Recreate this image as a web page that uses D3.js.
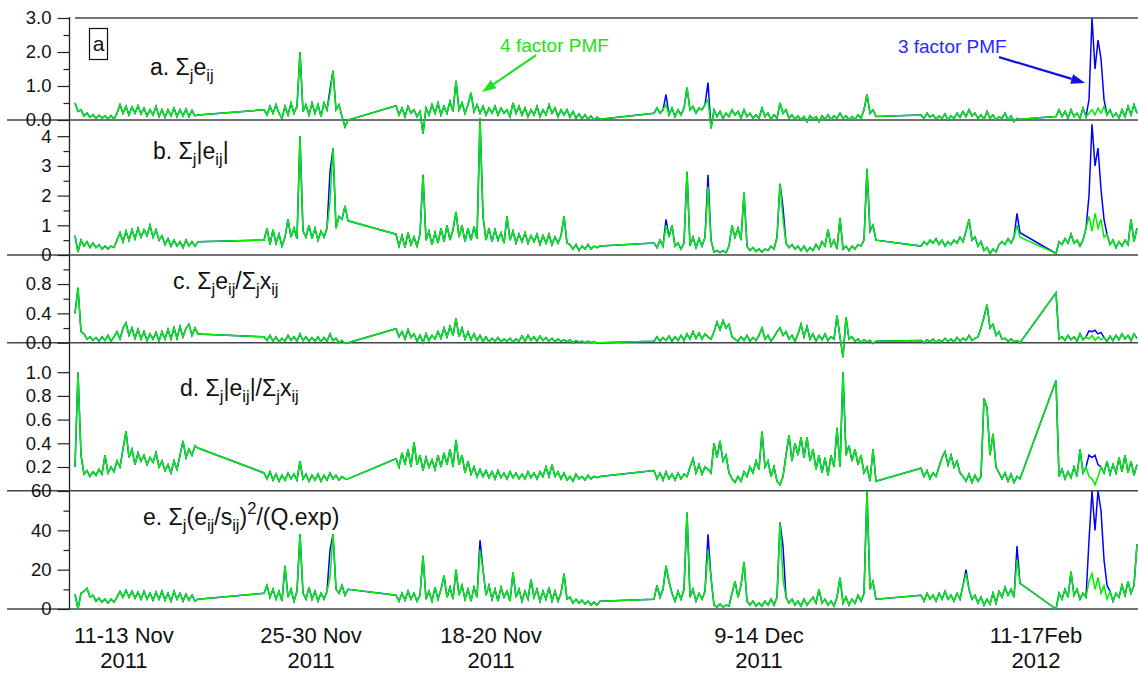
<!DOCTYPE html>
<meta charset="utf-8">
<script src="https://cdn.jsdelivr.net/npm/d3@7"></script>
<style>
body {margin: 0; background: #fff;}
svg text {font-family: "Liberation Sans", Arial, sans-serif; fill: #111;}
.sep {stroke: #444; stroke-width: 1.6;}
.axis path {display: none;}
.axis line {stroke: #222; stroke-width: 1.2;}
.axis text {font-size: 18.5px; fill: #111;}
.green {fill: none; stroke: #00f000; stroke-width: 1.5;}
.blue {fill: none; stroke: #0000ff; stroke-width: 1.5;}
.xlab {font-size: 22px; text-anchor: middle;}
.title {font-size: 23px;}
</style>
<div id="vis"></div>
<script>

// sample index where each measurement period starts (concatenated, compressed time axis)
var periodStart = [0, 63, 107, 193, 282, 327];
var axisEnd = 354.33;

// x labels (period names)
var periodLabels = [
  {t: 16.3, l1: "11-13 Nov", l2: "2011"},
  {t: 78.7, l1: "25-30 Nov", l2: "2011"},
  {t: 138.7, l1: "18-20 Nov", l2: "2011"},
  {t: 228, l1: "9-14 Dec", l2: "2011"},
  {t: 320.3, l1: "11-17Feb", l2: "2012"}
];

// ---- a. sum e_ij  (4 factor PMF, green) one list per period
var aGreen = [
  [0.5,0.25,0.3,0.12,0.2,0.08,0.15,0.05,0.14,0.06,0.12,0.04,0.13,0.02,0.2,0.45,0.2,0.4,0.15,0.38,0.2,0.42,0.18,0.35,0.12,0.3,0.15,0.4,0.1,0.3,0.08,0.3,0.12,0.35,0.1,0.3,0.12,0.32,0.1,0.28,0.12,0.15],
  [0.3,0.15,0.4,0.2,0.45,0.2,0.05,0.4,0.15,0.5,0.2,0.4,2.0,0.25,0.45,0.15,0.5,0.2,0.45,0.1,0.5,0.3,0.75,1.45,0.3,0.45,0.1,-0.2,0.0],
  [0.42,0.15,0.35,0.1,0.4,0.2,0.3,0.1,0.25,-0.4,0.35,0.15,0.45,0.2,0.5,0.15,0.4,0.2,0.55,0.25,1.15,0.3,0.5,0.2,0.45,0.8,0.25,0.45,0.2,0.4,0.15,0.35,0.2,0.4,0.15,0.35,0.2,0.3,0.1,0.5,0.2,0.4,0.15,0.35,0.1,0.3,0.15,0.4,0.1,0.3,0.15,0.45,0.2,0.35,0.1,0.3,0.15,0.3,0.08,0.25,0.05,0.18,0.03,0.15,0.02,0.12,0.0,0.08,0.02],
  [0.2,0.35,0.2,0.3,0.45,0.15,0.35,0.1,0.3,0.15,0.35,0.95,0.3,0.4,0.2,0.35,0.3,0.45,0.6,-0.25,0.3,0.1,0.25,0.05,0.2,0.1,0.3,0.15,0.25,0.05,0.3,0.1,0.2,0.05,0.15,0.05,0.35,0.1,0.2,0.02,0.15,0.05,0.5,0.2,0.3,0.05,0.15,0.02,0.12,0.0,0.1,-0.05,0.12,0.02,0.1,-0.05,0.12,0.02,0.15,0.0,0.12,0.05,0.2,0.05,0.12,0.0,0.1,0.02,0.15,0.05,0.3,0.75,0.2,0.3,0.1],
  [0.15,0.05,0.2,0.08,0.15,0.02,0.12,0.05,0.18,0.0,0.12,0.05,0.2,0.08,0.25,0.1,0.3,0.12,0.2,0.05,0.15,0.02,0.25,0.05,0.15,0.0,0.1,0.05,0.2,0.0,0.12,-0.05,0.05,0.02],
  [0.1,0.3,0.1,0.25,0.05,0.3,0.1,0.2,0.05,0.35,0.1,0.2,0.3,0.15,0.35,0.2,0.4,0.15,0.3,0.1,0.2,0.05,0.3,0.1,0.4,0.15,0.45,0.2]
];
// 3 factor PMF (blue): same as green except these [period, sample, value]
var aBlue = [[1,22,0.9],[3,4,0.75],[3,18,1.1],[5,11,0.6],[5,12,3.0],[5,13,1.5],[5,14,2.35],[5,15,1.8],[5,16,0.6]];

// ---- b. sum |e_ij|
var bGreen = [
  [0.65,0.1,0.5,0.3,0.45,0.25,0.4,0.25,0.35,0.2,0.3,0.2,0.3,0.25,0.5,0.75,0.45,0.8,0.5,0.85,0.55,0.9,0.6,0.85,0.65,1.0,0.6,0.85,0.5,0.65,0.35,0.55,0.3,0.5,0.3,0.45,0.25,0.5,0.3,0.45,0.3,0.45],
  [0.5,0.9,0.35,0.85,0.4,0.7,0.3,0.6,1.2,0.6,0.9,0.55,4.0,0.8,0.6,1.0,0.55,0.9,0.5,0.8,0.6,0.9,1.8,3.6,0.9,1.3,1.2,1.65,1.15],
  [0.7,0.3,0.65,0.25,0.75,0.35,0.6,0.3,0.7,2.7,0.5,0.8,0.35,0.75,0.4,0.9,0.45,1.0,0.5,0.85,1.45,0.6,1.0,0.45,0.9,0.5,0.95,0.55,4.6,1.3,0.5,0.9,0.45,0.85,0.5,0.75,0.4,1.3,0.5,0.8,0.4,0.7,0.45,0.75,0.4,0.65,0.45,0.7,0.35,0.65,0.4,0.7,0.35,0.6,0.4,0.65,1.3,0.4,0.35,0.2,0.35,0.15,0.3,0.2,0.35,0.2,0.3,0.25,0.3],
  [0.4,0.25,0.5,0.3,1.0,0.6,1.0,0.3,0.4,0.2,0.4,2.8,0.3,0.6,0.25,0.55,0.3,0.6,2.3,0.5,0.1,0.15,0.08,0.15,0.08,0.3,1.0,0.6,0.9,0.5,2.1,0.3,0.15,0.25,0.12,0.2,0.1,0.2,0.15,0.3,0.2,0.6,2.4,1.2,0.4,0.25,0.35,0.2,0.3,0.15,0.3,0.12,0.25,0.15,0.35,0.2,0.45,0.3,0.85,0.3,0.5,0.2,1.25,0.2,0.3,0.15,0.3,0.2,0.35,0.3,0.5,2.9,0.8,1.0,0.5],
  [0.3,0.45,0.35,0.5,0.4,0.55,0.35,0.5,0.3,0.45,0.35,0.5,0.4,0.6,0.45,0.8,1.2,0.5,0.6,0.3,0.45,0.15,0.25,0.05,0.2,0.1,0.35,0.45,0.35,0.55,0.4,0.6,1.0,0.6],
  [0.05,0.45,0.35,0.55,0.4,0.7,0.4,0.5,0.3,0.5,0.9,1.3,0.8,1.4,0.9,1.2,0.6,0.7,0.35,0.5,0.25,0.45,0.3,0.5,0.35,1.2,0.45,0.9]
];
var bBlue = [[1,22,2.8],[3,4,1.2],[3,18,2.7],[3,43,1.6],[4,32,1.4],[4,33,0.75],[5,11,2.0],[5,12,4.4],[5,13,3.0],[5,14,3.6],[5,15,2.2],[5,16,1.2]];

// ---- c. sum e_ij / sum x_ij
var cGreen = [
  [0.4,0.75,0.15,0.12,0.05,0.08,0.03,0.07,0.02,0.08,0.03,0.1,0.02,0.08,0.15,0.05,0.2,0.27,0.1,0.2,0.06,0.18,0.05,0.15,0.03,0.12,0.05,0.14,0.02,0.15,0.05,0.18,0.05,0.2,0.06,0.22,0.08,0.2,0.25,0.1,0.2,0.12],
  [0.08,0.03,0.1,0.02,0.08,0.01,0.06,0.02,0.1,0.03,0.08,0.02,0.12,0.03,0.08,0.02,0.07,0.02,0.08,0.01,0.07,0.02,0.12,0.03,0.06,0.0,0.03,-0.01,0.0],
  [0.19,0.08,0.15,0.05,0.18,0.07,0.12,0.02,0.1,0.0,0.12,0.03,0.1,0.05,0.15,0.06,0.2,0.08,0.22,0.1,0.33,0.08,0.2,0.05,0.15,0.04,0.12,0.03,0.1,0.02,0.08,0.01,0.06,0.02,0.07,0.01,0.05,0.02,0.06,0.01,0.05,0.02,0.09,0.02,0.1,0.03,0.08,0.02,0.09,0.03,0.07,0.02,0.06,0.01,0.05,0.02,0.04,0.01,0.04,0.0,0.03,0.01,0.02,0.0,0.02,0.0,0.01,0.0,0.0],
  [0.02,0.08,0.02,0.07,0.03,0.09,0.02,0.08,0.03,0.1,0.03,0.12,0.05,0.15,0.06,0.13,0.05,0.12,0.08,0.05,0.15,0.28,0.18,0.3,0.2,0.25,0.08,0.05,0.02,0.08,0.03,0.1,0.02,0.07,0.03,0.1,0.2,0.05,0.1,0.02,0.08,0.15,0.2,0.1,0.15,0.05,0.1,0.02,0.12,0.25,0.08,0.22,0.05,0.12,0.02,0.1,0.04,0.12,0.03,0.08,0.05,0.37,0.08,-0.2,0.35,0.05,0.08,0.02,0.05,0.0,0.04,0.01,0.03,-0.01,0.02],
  [0.03,0.0,0.04,0.01,0.05,0.0,0.04,0.01,0.06,0.02,0.05,0.01,0.07,0.02,0.06,0.03,0.1,0.03,0.06,0.08,0.2,0.35,0.52,0.2,0.25,0.1,0.15,0.05,0.06,0.02,0.05,0.01,0.03,0.0],
  [0.68,0.05,0.08,0.03,0.1,0.04,0.08,0.02,0.12,0.04,0.08,0.05,0.1,0.03,0.08,0.04,0.07,0.02,0.09,0.03,0.1,0.04,0.12,0.05,0.1,0.03,0.12,0.06]
];
var cBlue = [[5,11,0.16],[5,12,0.15],[5,13,0.17],[5,14,0.12],[5,15,0.14]];

// ---- d. sum |e_ij| / sum x_ij
var dGreen = [
  [0.2,1.0,0.3,0.14,0.17,0.12,0.16,0.13,0.18,0.14,0.3,0.15,0.2,0.16,0.25,0.2,0.35,0.5,0.28,0.35,0.22,0.32,0.25,0.3,0.22,0.28,0.24,0.32,0.2,0.25,0.17,0.22,0.15,0.25,0.18,0.3,0.42,0.28,0.35,0.3,0.38,0.36],
  [0.15,0.1,0.16,0.09,0.14,0.08,0.13,0.09,0.15,0.1,0.14,0.09,0.25,0.1,0.14,0.08,0.13,0.09,0.14,0.08,0.13,0.09,0.15,0.1,0.13,0.09,0.12,0.1,0.1],
  [0.27,0.2,0.32,0.22,0.35,0.2,0.41,0.22,0.3,0.17,0.28,0.2,0.26,0.18,0.3,0.2,0.32,0.22,0.35,0.2,0.43,0.22,0.3,0.15,0.25,0.14,0.2,0.12,0.18,0.12,0.17,0.11,0.16,0.1,0.17,0.11,0.15,0.1,0.16,0.11,0.15,0.1,0.14,0.1,0.16,0.11,0.15,0.1,0.16,0.12,0.2,0.12,0.22,0.12,0.16,0.1,0.15,0.09,0.12,0.08,0.14,0.1,0.12,0.09,0.13,0.1,0.12,0.11,0.12],
  [0.17,0.1,0.15,0.09,0.16,0.1,0.14,0.09,0.15,0.1,0.14,0.12,0.2,0.27,0.15,0.22,0.14,0.2,0.18,0.15,0.4,0.28,0.42,0.25,0.3,0.15,0.1,0.07,0.12,0.08,0.16,0.12,0.2,0.15,0.25,0.18,0.5,0.2,0.25,0.12,0.2,0.08,0.05,0.12,0.3,0.47,0.25,0.4,0.3,0.45,0.28,0.45,0.25,0.35,0.18,0.3,0.15,0.28,0.13,0.3,0.2,0.53,0.2,1.0,0.3,0.38,0.25,0.35,0.22,0.3,0.15,0.2,0.08,0.35,0.08],
  [0.19,0.12,0.17,0.1,0.15,0.12,0.2,0.28,0.33,0.22,0.3,0.2,0.25,0.15,0.12,0.08,0.14,0.07,0.13,0.08,0.12,0.78,0.7,0.3,0.48,0.2,0.15,0.1,0.15,0.08,0.14,0.07,0.12,0.1],
  [0.93,0.12,0.18,0.1,0.16,0.11,0.2,0.12,0.35,0.15,0.2,0.12,0.1,0.05,0.12,0.2,0.15,0.25,0.14,0.22,0.15,0.28,0.16,0.3,0.15,0.25,0.13,0.22]
];
var dBlue = [[5,11,0.3],[5,12,0.28],[5,13,0.3],[5,14,0.22]];

// ---- e. sum (e_ij/s_ij)^2 / Q.exp
var eGreen = [
  [7.5,0,8,9,10.5,6,7,4,5.5,3.5,5,3,5,3.5,6,9,6,9.5,6,9,5.5,8.5,5,9,5,8,4.5,8.5,5,9,4.5,8,4,9,5,8,4,7.5,4.5,7,4,5],
  [8,12,6,10,5,9,4,22,6,10,4,9,38,8,5,11,5,9,4,8,5,9,16,38,10,8,12,7,10],
  [7,4,8,4.5,9,5,8,4,7,27,5,9,4,11,5,10,17,6,11,5,20,7,12,5,10,4,11,6,30,20,7,12,5,10,4,11,6,9,4,18.5,6,10,4,9,5,15,6,10,4,9,5,11,4,9,4,8,18,5,6,3,5,3,4.5,2.5,4,2,3.5,2,4],
  [5,12,6,10,22,14,8,4,9,5,10,49,6,10,4,8,5,9,30,16,2,1,2.5,1,2,1.5,8,14,6,12,24,4,2,4,1.5,3,1.5,4,2,5,2,6,44,15,6,3,5,2,4,1.5,5,2,4,6,3,10,3,5,2,4,1.5,6,16,3,6,2,5,3,7,4,8,60,10,14,5],
  [7,4,8,5,7,4,8,5,9,5,7,4,8,5,12,18,10,5,7,3,6,2,5,2.5,8,3,9,6,11,7,10,6,25,13],
  [0,8,5,10,6,19,7,10,5,8,6,14,18,10,16,8,12,5,9,4,8,6,12,7,14,8,12,33]
];
var eBlue = [[1,22,30],[2,28,35],[3,18,38],[3,43,32],[4,15,20],[4,32,32],[5,11,35],[5,12,60],[5,13,40],[5,14,60],[5,15,50],[5,16,25],[5,17,12]];

// panel layout
var panels = [
  {green: aGreen, blue: aBlue, domain: [0, 3], range: [120, 18], major: [0, 1, 2, 3], minor: [0.5, 1.5, 2.5], fmt: ".1f",
   title: {x: 150, y: 75, parts: [["a. Σ",0],["j",1],["e",0],["ij",1]]}},
  {green: bGreen, blue: bBlue, domain: [0, 4.545], range: [255, 120], major: [0, 1, 2, 3, 4], minor: [0.5, 1.5, 2.5, 3.5], fmt: "d",
   title: {x: 153, y: 159, parts: [["b. Σ",0],["j",1],["|e",0],["ij",1],["|",0]]}},
  {green: cGreen, blue: cBlue, domain: [0, 1.196], range: [342.7, 255], major: [0, 0.4, 0.8], minor: [0.2, 0.6, 1.0], fmt: ".1f",
   title: {x: 173, y: 289, parts: [["c. Σ",0],["j",1],["e",0],["ij",1],["/Σ",0],["j",1],["x",0],["ij",1]]}},
  {green: dGreen, blue: dBlue, domain: [0, 1.249], range: [490.7, 342.7], major: [0.2, 0.4, 0.6, 0.8, 1.0], minor: [], fmt: ".1f",
   title: {x: 180, y: 396, parts: [["d. Σ",0],["j",1],["|e",0],["ij",1],["|/Σ",0],["j",1],["x",0],["ij",1]]}},
  {green: eGreen, blue: eBlue, domain: [0, 60], range: [609, 491], major: [0, 20, 40, 60], minor: [10, 30, 50], fmt: "d",
   title: {x: 143, y: 525, parts: [["e. Σ",0],["j",1],["(e",0],["ij",1],["/s",0],["ij",1],[")",0],["2",2],["/(Q.exp)",0]]}}
];

var w = 1138, h = 675;
var svg = d3.select("#vis").append("svg").attr("width", w).attr("height", h);

var x = d3.scaleLinear().domain([0, axisEnd]).range([75, 1138]);

function toPoints(series) {
  var pts = [];
  series.forEach(function(vals, p) {
    vals.forEach(function(v, k) { pts.push({p: p, k: k, t: periodStart[p] + k, v: v}); });
  });
  return pts;
}

function richText(g, px, py, parts, size, cls) {
  var t = g.append("text").attr("class", cls).attr("x", px).attr("y", py);
  var shift = 0;
  parts.forEach(function(d) {
    var target = d[1] == 1 ? 0.28 * size : d[1] == 2 ? -0.5 * size : 0;
    t.append("tspan")
      .attr("dy", target - shift)
      .style("font-size", d[1] ? (size * 0.72) + "px" : size + "px")
      .text(d[0]);
    shift = target;
  });
}

// top frame line + y axis line
svg.append("line").attr("class", "sep").attr("x1", 75).attr("x2", w).attr("y1", 18).attr("y2", 18);
svg.append("line").attr("x1", 69.5).attr("x2", 69.5).attr("y1", 17).attr("y2", 609)
  .attr("stroke", "#222").attr("stroke-width", 1.3);

panels.forEach(function(pn) {
  var y = d3.scaleLinear().domain(pn.domain).range(pn.range);

  // panel baseline (separator)
  svg.append("line").attr("class", "sep")
    .attr("x1", 7).attr("x2", w).attr("y1", y(0)).attr("y2", y(0));

  svg.append("g").attr("class", "axis").attr("transform", "translate(69.5,0)")
    .call(d3.axisLeft(y).tickValues(pn.major).tickSize(12).tickPadding(6).tickFormat(d3.format(pn.fmt)));
  if (pn.minor.length)
    svg.append("g").attr("class", "axis").attr("transform", "translate(69.5,0)")
      .call(d3.axisLeft(y).tickValues(pn.minor).tickSize(6).tickFormat(""));

  var line = d3.line().x(function(d) { return x(d.t); }).y(function(d) { return y(d.v); });

  var gpts = toPoints(pn.green);
  var bpts = gpts.map(function(d) { return Object.assign({}, d); });
  pn.blue.forEach(function(o) {
    var m = bpts.find(function(d) { return d.p == o[0] && d.k == o[1]; });
    if (m) m.v = o[2];
  });

  svg.append("path").datum(bpts).attr("class", "blue").attr("d", line);
  svg.append("path").datum(gpts).attr("class", "green").attr("d", line);

  richText(svg, pn.title.x, pn.title.y, pn.title.parts, 23, "title");
});

// boxed panel tag
svg.append("rect").attr("x", 89.5).attr("y", 28.5).attr("width", 18).attr("height", 31)
  .attr("fill", "none").attr("stroke", "#111").attr("stroke-width", 1.2);
svg.append("text").attr("x", 98.5).attr("y", 51).attr("text-anchor", "middle")
  .style("font-size", "21px").text("a");

// annotations in panel a
var ya = d3.scaleLinear().domain([0, 3]).range([120, 18]);
function arrow(x1, y1, x2, y2, color) {
  var ang = Math.atan2(y2 - y1, x2 - x1), L = 14, Wd = 5;
  var bx = x2 - L * Math.cos(ang), by = y2 - L * Math.sin(ang);
  svg.append("line").attr("x1", x1).attr("y1", y1).attr("x2", bx).attr("y2", by)
    .attr("stroke", color).attr("stroke-width", 2.2);
  svg.append("path").attr("fill", color)
    .attr("d", "M" + x2 + "," + y2 + "L" + (bx + Wd * Math.sin(ang)) + "," + (by - Wd * Math.cos(ang)) +
      "L" + (bx - Wd * Math.sin(ang)) + "," + (by + Wd * Math.cos(ang)) + "Z");
}
svg.append("text").attr("x", x(141.7)).attr("y", ya(2.0)).style("font-size", "19px")
  .style("fill", "#22e022").text("4 factor PMF");
arrow(x(153.7), ya(1.91), x(135.7), ya(0.82), "#22e022");
svg.append("text").attr("x", x(274.3)).attr("y", ya(1.97)).style("font-size", "19px")
  .style("fill", "#2a2aff").text("3 factor PMF");
arrow(x(308), ya(1.85), x(336.7), ya(1.09), "#1010e0");

// x period labels
periodLabels.forEach(function(d) {
  svg.append("text").attr("class", "xlab").attr("x", x(d.t)).attr("y", 643).text(d.l1);
  svg.append("text").attr("class", "xlab").attr("x", x(d.t)).attr("y", 668).text(d.l2);
});

</script>
